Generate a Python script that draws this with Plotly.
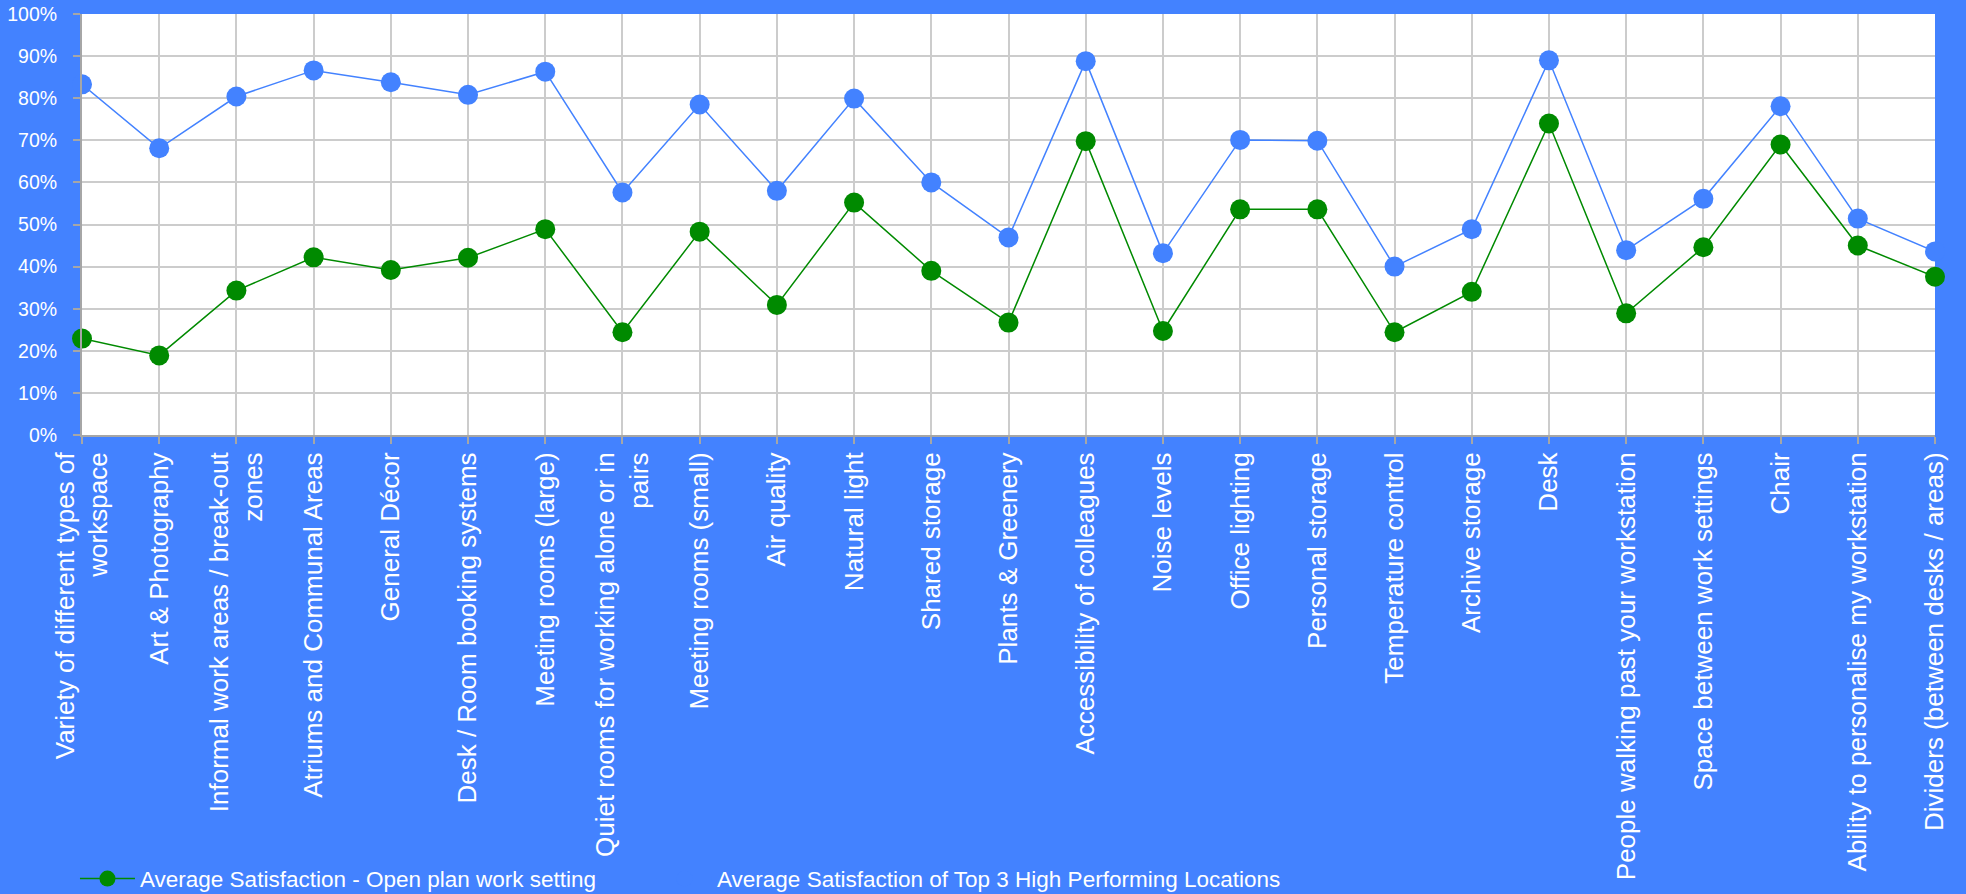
import plotly.graph_objects as go

# Workplace features rated in the survey
categories = [
    "Variety of different types of<br>workspace",
    "Art & Photography",
    "Informal work areas / break-out<br>zones",
    "Atriums and Communal Areas",
    "General Décor",
    "Desk / Room booking systems",
    "Meeting rooms (large)",
    "Quiet rooms for working alone or in<br>pairs",
    "Meeting rooms (small)",
    "Air quality",
    "Natural light",
    "Shared storage",
    "Plants & Greenery",
    "Accessibility of colleagues",
    "Noise levels",
    "Office lighting",
    "Personal storage",
    "Temperature control",
    "Archive storage",
    "Desk",
    "People walking past your workstation",
    "Space between work settings",
    "Chair",
    "Ability to personalise my workstation",
    "Dividers (between desks / areas)",
]

# Average satisfaction (%) - open plan work setting
open_plan = [22.9, 18.9, 34.3, 42.2, 39.2, 42.1, 48.9, 24.4, 48.3, 30.9,
             55.2, 39.0, 26.7, 69.8, 24.7, 53.6, 53.6, 24.4, 34.0, 74.0,
             28.9, 44.6, 69.0, 45.0, 37.6]

# Average satisfaction (%) of the top 3 high performing locations
top3 = [83.3, 68.1, 80.4, 86.6, 83.8, 80.8, 86.3, 57.6, 78.5, 58.0,
        79.9, 60.0, 46.9, 88.8, 43.2, 70.1, 69.9, 40.0, 48.9, 89.0,
        43.9, 56.1, 78.1, 51.4, 43.6]

y_ticks = list(range(0, 101, 10))

BG = "#4382FF"
GREEN = "#008A00"
GRID = "#CCCCCC"
AXIS = "#A6A6A6"
FONT = "Arial, Liberation Sans, sans-serif"

fig = go.Figure()
fig.add_trace(go.Scatter(
    x=categories, y=open_plan, mode="lines+markers",
    name="Average Satisfaction - Open plan work setting",
    line=dict(color=GREEN, width=1.5),
    marker=dict(color=GREEN, size=20),
    cliponaxis=False,
    legend="legend",
))
fig.add_trace(go.Scatter(
    x=categories, y=top3, mode="lines+markers",
    name="Average Satisfaction of Top 3 High Performing Locations",
    line=dict(color=BG, width=1.5),
    marker=dict(color=BG, size=20),
    cliponaxis=False,
    legend="legend2",
))

legend_common = dict(
    orientation="h", xanchor="left",
    y=-1.0546, yanchor="middle",
    font=dict(size=22.5, color="white", family=FONT),
    bgcolor="rgba(0,0,0,0)",
    itemwidth=55,
)

fig.update_layout(
    width=1966, height=894,
    margin=dict(l=82, r=31, t=14, b=459, autoexpand=False),
    paper_bgcolor=BG,
    plot_bgcolor="white",
    font=dict(family=FONT, color="white"),
    showlegend=True,
    legend=dict(x=-0.0038, **legend_common),
    legend2=dict(x=0.3076, **legend_common),
)

fig.update_xaxes(
    type="category",
    range=[0, len(categories) - 1],
    tickangle=-90,
    tickfont=dict(size=26, color="white", family=FONT),
    showgrid=True, gridcolor=GRID, gridwidth=1.5,
    showline=True, linecolor=AXIS, linewidth=2,
    ticks="outside", ticklen=7, tickcolor=AXIS, tickwidth=1.5,
    ticklabelstandoff=-2,
    zeroline=False,
    automargin=False,
)
fig.update_yaxes(
    range=[0, 100],
    tickvals=y_ticks,
    ticktext=[f"{v}%" for v in y_ticks],
    tickfont=dict(size=19.5, color="white", family=FONT),
    showgrid=True, gridcolor=GRID, gridwidth=1.5,
    showline=True, linecolor=AXIS, linewidth=2,
    ticks="outside", ticklen=7, tickcolor=AXIS, tickwidth=1.5,
    ticklabelstandoff=12,
    zeroline=False,
    automargin=False,
)

fig.write_html("out.html")
